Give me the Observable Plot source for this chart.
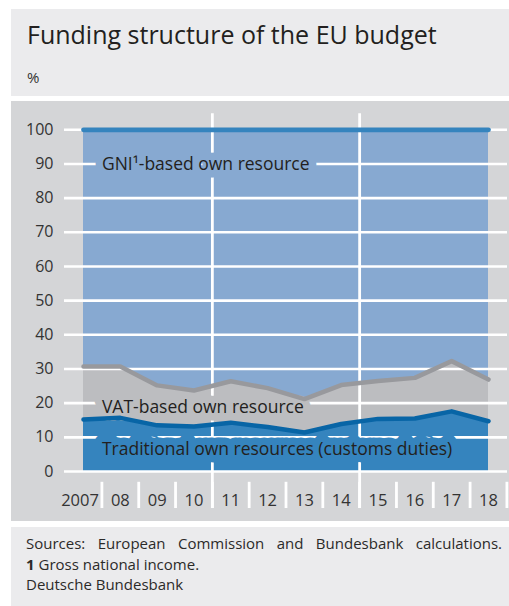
<!DOCTYPE html>
<html>
<head>
<meta charset="utf-8">
<script src="https://cdn.jsdelivr.net/npm/d3@7"></script>
<script src="https://cdn.jsdelivr.net/npm/@observablehq/plot@0.6"></script>
<style>
  html, body { margin: 0; padding: 0; background: #fff; width: 509px; height: 606px; overflow: hidden; }
  body { font-family: "Open Sans", sans-serif; color: #231f20; position: relative; }
  .panel { position: absolute; left: 11px; width: 498px; }
  #head { top: 9px; height: 87px; background: #ebebed; }
  #title { position: absolute; left: 16px; top: 10px; font-size: 25px; line-height: 30px; white-space: nowrap; }
  #unit { position: absolute; left: 16px; top: 59px; font-size: 15px; line-height: 18px; color: #333; }
  #chart { top: 101px; height: 420px; background: #d4d5d7; }
  #foot { top: 527px; height: 79px; background: #ebebed; }
  #foot .t { position: absolute; left: 15px; font-size: 15px; line-height: 15px; white-space: nowrap; color: #2b2a29; }
  #foot .j { white-space: normal; width: 476px; text-align: justify; text-align-last: justify; }
</style>
</head>
<body>
<div class="panel" id="head">
  <div id="title">Funding structure of the EU budget</div>
  <div id="unit">%</div>
</div>
<div class="panel" id="chart"></div>
<div class="panel" id="foot">
  <div class="t j" style="top:9.2px;">Sources: European Commission and Bundesbank calculations.</div>
  <div class="t" style="top:29.8px;"><b>1</b> Gross national income.</div>
  <div class="t" style="top:50.4px;">Deutsche Bundesbank</div>
</div>
<script>
// ---- data ----
const years = [2007, 2008, 2009, 2010, 2011, 2012, 2013, 2014, 2015, 2016, 2017, 2018];
const xTickLabels = ["2007", "08", "09", "10", "11", "12", "13", "14", "15", "16", "17", "18"];
const traditional = [15.2, 15.7, 13.5, 13.2, 14.3, 13.0, 11.4, 13.9, 15.4, 15.5, 17.6, 14.7];
const vat = [15.5, 15.0, 11.7, 10.5, 12.1, 11.4, 9.8, 11.4, 11.1, 11.9, 14.7, 12.2];
const gni = [69.3, 69.3, 74.8, 76.3, 73.6, 75.6, 78.8, 74.7, 73.5, 72.6, 67.7, 73.1];
const yTicks = [0, 10, 20, 30, 40, 50, 60, 70, 80, 90, 100];
const separators = [2007.5, 2008.5, 2009.5, 2010.5, 2011.5, 2012.5, 2013.5, 2014.5, 2015.5, 2016.5, 2017.5, 2018.5];
const longSeparators = [2010.5, 2014.5];
const seriesLabels = [
  {name: "GNI¹-based own resource", x: 2007.5, y: 90, bg: "#87a9d1"},
  {name: "VAT-based own resource", x: 2007.5, y: 18.8, bg: "#bcbdc0"},
  {name: "Traditional own resources (customs duties)", x: 2007.5, y: 6.6, bg: "#3584be"}
];

// stacked table built from the arrays
const rows = years.map((year, i) => {
  const t = traditional[i];
  const v = t + vat[i];
  const g = v + gni[i];
  return {year, trad: t, vatTop: v, total: g};
});

const fmtX = d => xTickLabels[years.indexOf(d)];
const labelOpts = {x: "x", y: "y", text: "name", textAnchor: "start", fontSize: 17.5};

const chart = Plot.plot({
  width: 498,
  height: 420,
  marginLeft: 72,
  marginRight: 21,
  marginTop: 28.3,
  marginBottom: 50,
  style: {background: "transparent", fontFamily: "Open Sans", fontSize: "16px", color: "#333"},
  x: {domain: [2007, 2018]},
  y: {domain: [0, 100]},
  marks: [
    Plot.areaY(rows, {x: "year", y1: 0, y2: "total", fill: "#87a9d1"}),
    Plot.areaY(rows, {x: "year", y1: 0, y2: "vatTop", fill: "#bcbdc0"}),
    Plot.areaY(rows, {x: "year", y1: 0, y2: "trad", fill: "#3584be"}),
    Plot.ruleY(yTicks, {stroke: "white", strokeWidth: 2.6, insetLeft: -19, insetRight: -19}),
    Plot.ruleX(longSeparators, {stroke: "white", strokeWidth: 2.8, insetTop: -16, insetBottom: -37}),
    Plot.ruleX(separators, {stroke: "white", strokeWidth: 2.8, insetTop: 352.5, insetBottom: -37}),
    // label backgrounds (interrupt the grid, sit beneath the lines)
    Plot.text(seriesLabels, {...labelOpts, fill: "bg", stroke: "bg", strokeWidth: 15, strokeLinejoin: "round"}),
    Plot.lineY(rows, {x: "year", y: "total", stroke: "#3584be", strokeWidth: 4.8}),
    Plot.lineY(rows, {x: "year", y: "vatTop", stroke: "#98999d", strokeWidth: 4.5}),
    Plot.lineY(rows, {x: "year", y: "trad", stroke: "#0865a6", strokeWidth: 4.5}),
    Plot.text(seriesLabels, {...labelOpts, fill: "#231f20"}),
    Plot.axisY(yTicks, {tickSize: 0, tickPadding: 30, label: null, fontSize: 16, fill: "#333"}),
    Plot.axisX(years.slice(0, 1), {tickSize: 0, tickPadding: 23, label: null, fontSize: 16.5, fill: "#333",
      dx: -3.5, tickFormat: fmtX}),
    Plot.axisX(years.slice(1), {tickSize: 0, tickPadding: 23, label: null, fontSize: 16.5, fill: "#333",
      tickFormat: fmtX})
  ]
});
document.getElementById("chart").appendChild(chart);
</script>
</body>
</html>
